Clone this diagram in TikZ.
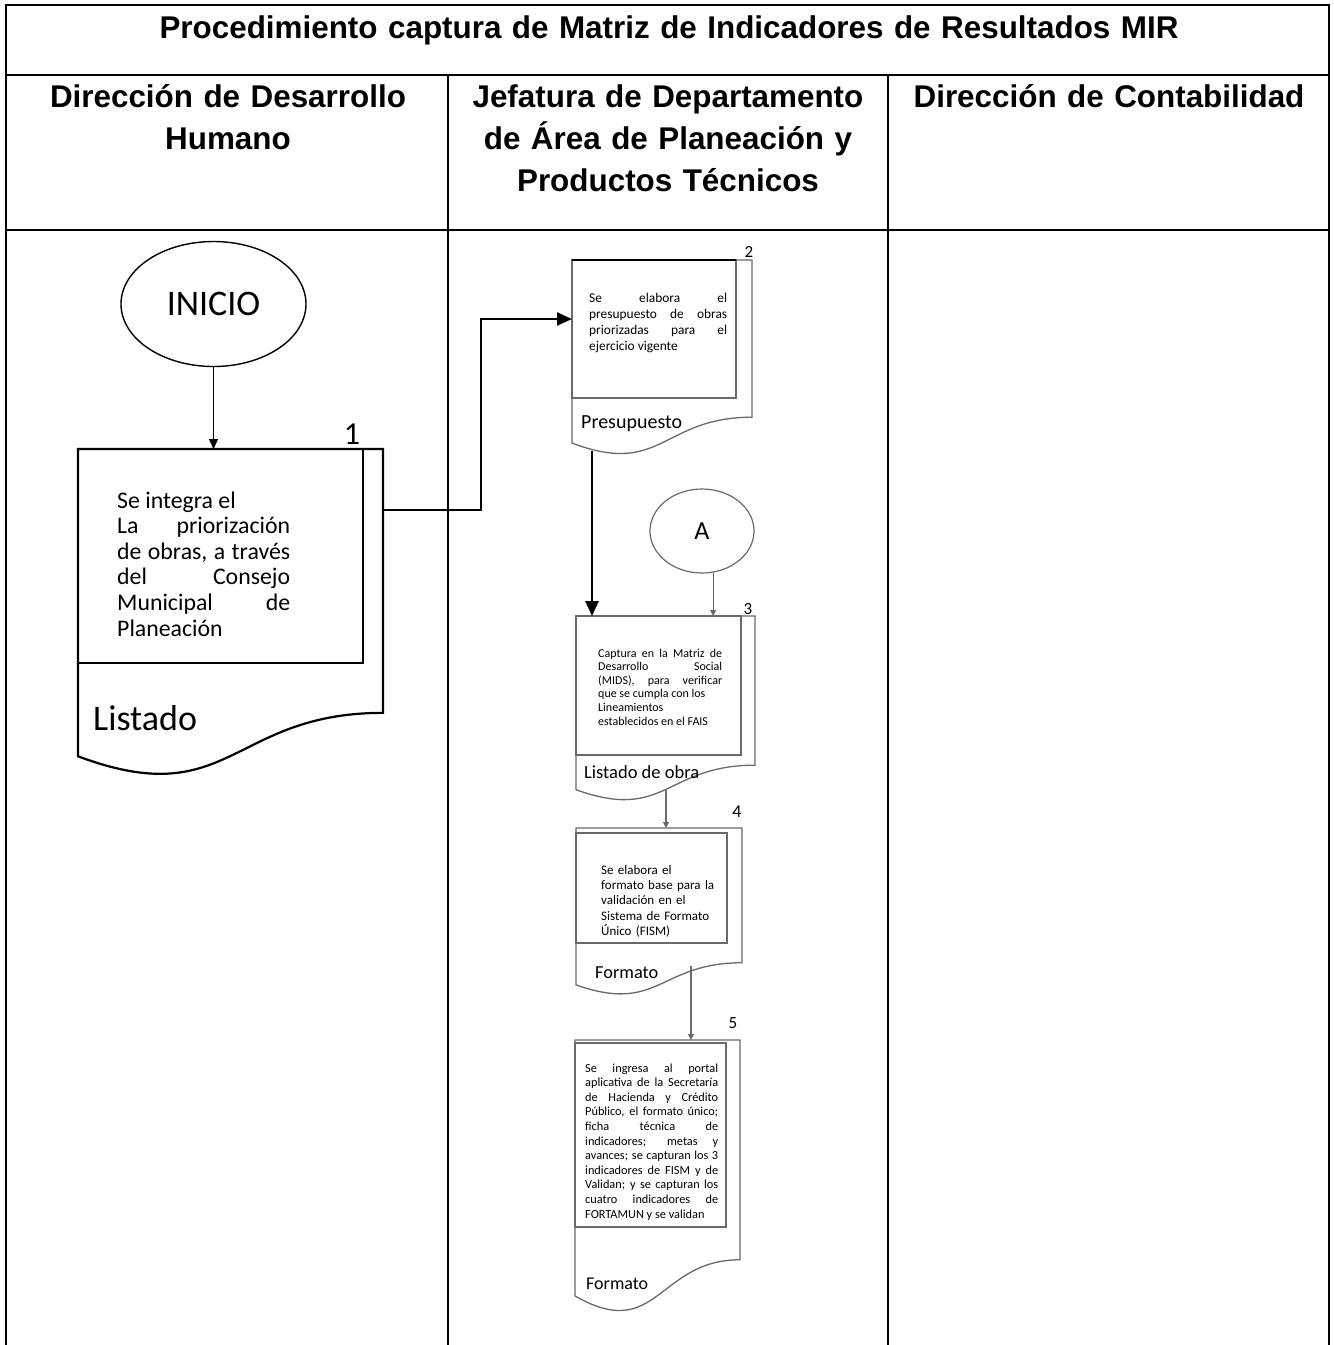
\documentclass[tikz,border=0pt]{standalone}
\usepackage{fontspec}
\setmainfont{Carlito}
\newfontfamily\hdrfont{Liberation Sans}
\usetikzlibrary{arrows.meta,shapes.geometric,calc}
\definecolor{shapegray}{RGB}{105,105,105}
% document shape: [style]{L}{T}{R}{H}
\newcommand{\docshape}[5][]{%
  \draw[#1] (#2,#3) -- (#4,#3) -- (#4,{#3+0.802*#5})
    .. controls ({(#2+#4)/2},{#3+0.802*#5}) and ({(#2+#4)/2},{#3+1.1075*#5}) ..
    (#2,{#3+0.934*#5}) -- cycle;}
\begin{document}
\begin{tikzpicture}[x=1pt,y=-1pt,
  tbl/.style={line width=2.6pt},
  hdr/.style={font={\hdrfont\bfseries\fontsize{31.4pt}{42pt}\selectfont}, text width=430pt, align=center, inner sep=0pt, anchor=base},
  body/.style={inner sep=0pt, anchor=base west, align=justify},
  lbl/.style={inner sep=0pt, anchor=base west},
  num/.style={inner sep=0pt, anchor=center},
  blackdoc/.style={line width=2.2pt},
  graydoc/.style={draw=shapegray, line width=1.3pt},
  bigarrow/.style={line width=2.4pt, -{Triangle[length=15pt,width=13pt]}},
  thinarrow/.style={line width=1.2pt, -{Triangle[length=10pt,width=9pt]}},
  grayarrow/.style={draw=shapegray, line width=1.1pt, -{Triangle[length=6pt,width=6pt]}, shapegray},
  term/.style={ellipse, draw, line width=1.4pt, inner sep=0pt}
]
\useasboundingbox (0,0) rectangle (1334,1345);

% ---- table ----
\draw[tbl] (6,1345) -- (6,5) -- (1329,5) -- (1329,1345);
\draw[tbl] (6,75) -- (1329,75);
\draw[tbl] (6,230) -- (1329,230);
\draw[tbl] (448,75) -- (448,1345);
\draw[tbl] (888,75) -- (888,1345);

\node[hdr, text width=1300pt] (title) at (669,38) {Procedimiento captura de Matriz de Indicadores de Resultados MIR};
\node[hdr] (h1) at (228,107.5) {Dirección de Desarrollo\\ Humano};
\node[hdr] (h2) at (668,107.5) {Jefatura de Departamento\\ de Área de Planeación y\\ Productos Técnicos};
\node[hdr] (h3) at (1109,107.5) {Dirección de Contabilidad};

% ---- INICIO ----
\node[term, minimum width=185pt, minimum height=125pt, font=\fontsize{36pt}{40pt}\selectfont] (inicio) at (213.5,304) {INICIO};

% ---- document 1 ----
\docshape[blackdoc]{78}{449}{383}{329}
\draw[blackdoc] (78,449) rectangle (363,663);
\coordinate (d1top) at (213.5,449);
\coordinate (d1r) at (383,510);
\node[num, font=\fontsize{32pt}{36pt}\selectfont] (n1) at (352,434) {1};
\node[body, text width=173pt, font={\fontsize{23.8pt}{25.6pt}\selectfont\hyphenpenalty=10000\tolerance=10000}] (t1) at (117,508)
 {Se integra el\par La priorización\linebreak de obras, a través\linebreak del Consejo\linebreak Municipal de\linebreak Planeación};
\node[lbl, font=\fontsize{36pt}{40pt}\selectfont] (l1) at (93,730) {Listado};

% ---- document 2 ----
\docshape[graydoc]{572}{260}{752}{196}
\draw[graydoc] (572,260) rectangle (736,398);
\draw[line width=1.6pt] (572,260) -- (736,260);
\coordinate (d2l) at (572,319);
\coordinate (d2b) at (592,451);
\node[num, font=\fontsize{17pt}{20pt}\selectfont] (n2) at (749,252) {2};
\node[body, text width=138pt, font={\fontsize{13.4pt}{16.3pt}\selectfont\hyphenpenalty=10000\tolerance=10000}] (t2) at (589,302)
 {Se elabora el\linebreak presupuesto de obras\linebreak priorizadas para el\linebreak ejercicio vigente};
\node[lbl, font=\fontsize{20pt}{24pt}\selectfont] (l2) at (581,428) {Presupuesto};

% ---- connector A ----
\node[term, draw=shapegray, line width=1.2pt, minimum width=104pt, minimum height=84pt, font=\fontsize{26pt}{30pt}\selectfont] (A) at (702,531) {A};

% ---- document 3 ----
\docshape[graydoc]{576}{616}{755}{186}
\draw[graydoc] (576,616) rectangle (741,755);
\coordinate (d3topl) at (592,616);
\coordinate (d3b) at (666,790);
\node[num, font=\fontsize{17pt}{20pt}\selectfont] (n3) at (748,609) {3};
\node[body, text width=124pt, font={\fontsize{12pt}{13.6pt}\selectfont\hyphenpenalty=10000\tolerance=10000}] (t3) at (598,657)
 {Captura en la Matriz de\linebreak Desarrollo Social\linebreak (MIDS), para verificar\linebreak que se cumpla con los\par Lineamientos\par establecidos en el FAIS};
\node[lbl, font=\fontsize{18.5pt}{22pt}\selectfont] (l3) at (584,778) {Listado de obra};

% ---- document 4 ----
\docshape[graydoc]{576}{828}{742}{168}
\draw[graydoc] (576,833) rectangle (727,943);
\coordinate (d4top) at (666,828);
\coordinate (d4b) at (691,966);
\node[num, font=\fontsize{18pt}{21pt}\selectfont] (n4) at (737,812) {4};
\node[body, align=left, text width=130pt, font={\fontsize{13pt}{15.4pt}\selectfont}] (t4) at (601,874)
 {Se elabora el\\ formato base para la\\ validación en el\\ Sistema de Formato\\ Único (FISM)};
\node[lbl, font=\fontsize{18.3pt}{22pt}\selectfont] (l4) at (595,978) {Formato};

% ---- document 5 ----
\docshape[graydoc]{575}{1040}{740}{274}
\draw[graydoc] (575,1043) rectangle (726,1227);
\coordinate (d5top) at (691,1040);
\node[num, font=\fontsize{17pt}{20pt}\selectfont] (n5) at (733,1023) {5};
\node[body, text width=133pt, font={\fontsize{12.3pt}{14.6pt}\selectfont\hyphenpenalty=10000\tolerance=10000}] (t5) at (585,1072)
 {Se ingresa al portal\linebreak aplicativa de la Secretaría\linebreak de Hacienda y Crédito\linebreak Público, el formato único;\linebreak ficha técnica de\linebreak indicadores; metas y\linebreak avances; se capturan los 3\linebreak indicadores de FISM y de\linebreak Validan; y se capturan los\linebreak cuatro indicadores de\linebreak FORTAMUN y se validan};
\node[lbl, font=\fontsize{18pt}{22pt}\selectfont] (l5) at (586,1289) {Formato};

% ---- connectors ----
\draw[thinarrow] (inicio.south) -- (d1top);
\draw[bigarrow] (d1r) -- ++(98,0) |- (d2l);
\draw[bigarrow] (d2b) -- (d3topl);
\draw[grayarrow] (A.-75) -- (A.-75 |- d3topl);
\draw[grayarrow] (d3b) -- (d4top);
\draw[grayarrow] (d4b) -- (d5top);
\end{tikzpicture}
\end{document}
